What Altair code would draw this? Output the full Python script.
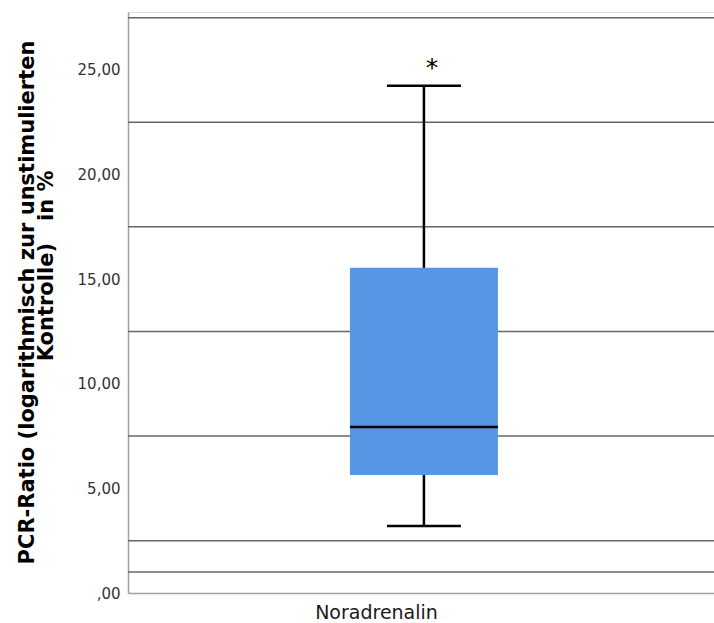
import altair as alt
import pandas as pd

categories = ["Noradrenalin"]
q1 = [5.64]
median = [7.93]
q3 = [15.54]
whisker_low = [3.2]
whisker_high = [24.24]
outlier_values = [25.2]
grid_values = [1.0, 2.5, 7.5, 12.5, 17.5, 22.5, 27.5]
tick_values = [0, 5, 10, 15, 20, 25]

box_df = pd.DataFrame({
    "cat": categories, "q1": q1, "median": median, "q3": q3,
    "lo": whisker_low, "hi": whisker_high,
})
out_df = pd.DataFrame({"cat": categories * len(outlier_values), "v": outlier_values})
grid_df = pd.DataFrame({"g": grid_values})

FONT = "DejaVu Sans"
NB = "\u00a0"
ZW = "\u200b"
ydom = [0, 27.77]

yscale = alt.Scale(domain=ydom, nice=False, zero=False)
xscale = alt.Scale(domain=categories, paddingInner=0, paddingOuter=0.05, align=0.555)

yaxis = alt.Axis(
    values=tick_values, labelExpr="datum.value == 0 ? ',00' : replace(format(datum.value, '.2f'), '.', ',')",
    grid=False, ticks=False, labelPadding=8, labelFont=FONT, labelFontSize=15, labelColor="#333333",
    domainColor="#a0a0a0", domainWidth=1.5,
    title=["PCR-Ratio (logarithmisch zur unstimulierten", ZW + NB * 10 + "Kontrolle)" + NB * 3 + "in %"],
    titleFont=FONT, titleFontSize=21, titleFontWeight="bold", titleColor="#000000",
    titleAngle=-90, titleX=-101, titleY=290, titleAlign="center", titleBaseline="middle",
    titleLineHeight=19,
)
xaxis = alt.Axis(
    labels=False, ticks=False, domainColor="#a0a0a0", domainWidth=1.5,
    title="Noradrenalin", titleFont=FONT, titleFontSize=19, titleFontWeight="normal",
    titleColor="#1a1a1a", titleX=248, titleY=19, titleBaseline="middle", titleAlign="center",
)

grid = alt.Chart(grid_df).mark_rule(color="#666666", strokeWidth=1.5).encode(
    y=alt.Y("g:Q", scale=yscale, axis=yaxis),
)

whisk = alt.Chart(box_df).mark_rule(color="black", strokeWidth=2.5).encode(
    x=alt.X("cat:N", scale=xscale, axis=xaxis),
    y=alt.Y("lo:Q", scale=yscale),
    y2="hi:Q",
)

caps_lo = alt.Chart(box_df).mark_tick(color="black", size=74, thickness=2.5, opacity=1).encode(
    x=alt.X("cat:N", scale=xscale),
    y=alt.Y("lo:Q", scale=yscale),
)
caps_hi = alt.Chart(box_df).mark_tick(color="black", size=74, thickness=2.5, opacity=1).encode(
    x=alt.X("cat:N", scale=xscale),
    y=alt.Y("hi:Q", scale=yscale),
)

box = alt.Chart(box_df).mark_bar(color="#5596e5", size=148, opacity=1).encode(
    x=alt.X("cat:N", scale=xscale),
    y=alt.Y("q1:Q", scale=yscale),
    y2="q3:Q",
)

med = alt.Chart(box_df).mark_tick(color="black", size=148, thickness=2.5, opacity=1).encode(
    x=alt.X("cat:N", scale=xscale),
    y=alt.Y("median:Q", scale=yscale),
)

outl = alt.Chart(out_df).mark_text(text="*", fontSize=25, font=FONT, color="black",
                                   baseline="middle", dx=8, dy=2).encode(
    x=alt.X("cat:N", scale=xscale),
    y=alt.Y("v:Q", scale=yscale),
)

chart = alt.layer(grid, whisk, caps_lo, caps_hi, box, med, outl).properties(
    width=586, height=581,
    padding={"left": 128, "top": 12, "right": 0, "bottom": 30},
    autosize=alt.AutoSizeParams(type="none"),
).configure_view(stroke=None).configure(background="white")

chart.save("out.html", embed_options={"renderer": "svg", "actions": False})
